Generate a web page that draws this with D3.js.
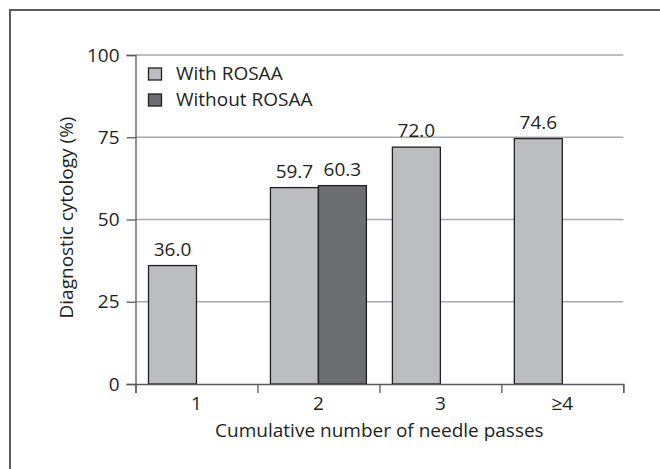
<!DOCTYPE html>
<html>
<head>
<meta charset="utf-8">
<script src="https://cdn.jsdelivr.net/npm/d3@7"></script>
<style>
  body { margin: 0; background: #fff; }
  svg { display: block; }
  text { font-family: "Open Sans", sans-serif; fill: #231f20; }
</style>
</head>
<body>
<svg id="chart" width="660" height="469"></svg>
<script>
"use strict";

// data
const categories = ["1", "2", "3", "\u22654"];
const series_names = ["With ROSAA", "Without ROSAA"];
const with_rosaa = [36.0, 59.7, 72.0, 74.6];
const without_rosaa = [null, 60.3, null, null];
const y_ticks = [0, 25, 50, 75, 100];

const series_colors = ["#bcbdc0", "#6d6e71"];
const font_size = 19;

const margin = { left: 135.5, top: 55, right: 660 - 623.3, bottom: 469 - 384 };
const width = 660 - margin.left - margin.right;
const height = 469 - margin.top - margin.bottom;

const svg = d3.select("#chart");

// outer frame, running off the right and bottom of the picture
svg.append("rect")
    .attr("x", 10)
    .attr("y", 10)
    .attr("width", 700)
    .attr("height", 500)
    .attr("fill", "none")
    .attr("stroke", "#5a5b5d")
    .attr("stroke-width", 2);

const g = svg.append("g")
    .attr("transform", `translate(${margin.left},${margin.top})`);

const x0 = d3.scaleBand()
    .domain(categories)
    .range([0, width])
    .paddingInner(26 / 122)
    .paddingOuter(13 / 122);

const x1 = d3.scaleBand()
    .domain(series_names)
    .range([0, x0.bandwidth()]);

const y = d3.scaleLinear()
    .domain([0, 100])
    .range([height, 0]);

// gridlines
g.append("g")
    .selectAll("line")
    .data(y_ticks.filter(d => d > 0))
    .enter().append("line")
    .attr("x1", 0)
    .attr("x2", width)
    .attr("y1", d => y(d))
    .attr("y2", d => y(d))
    .attr("stroke", "#a7a9ac")
    .attr("stroke-width", 1.3);

// bars
const rows = [];
categories.forEach((c, i) => {
    if (with_rosaa[i] != null) rows.push({ cat: c, series: series_names[0], value: with_rosaa[i], color: series_colors[0] });
    if (without_rosaa[i] != null) rows.push({ cat: c, series: series_names[1], value: without_rosaa[i], color: series_colors[1] });
});

g.append("g")
    .selectAll("rect")
    .data(rows)
    .enter().append("rect")
    .attr("x", d => x0(d.cat) + x1(d.series))
    .attr("y", d => y(d.value))
    .attr("width", x1.bandwidth())
    .attr("height", d => y(0) - y(d.value))
    .attr("fill", d => d.color)
    .attr("stroke", "#231f20")
    .attr("stroke-width", 1.3);

g.append("g")
    .selectAll("text")
    .data(rows)
    .enter().append("text")
    .attr("x", d => x0(d.cat) + x1(d.series) + x1.bandwidth() / 2)
    .attr("y", d => y(d.value) - 10)
    .attr("text-anchor", "middle")
    .style("font-size", font_size + "px")
    .text(d => d.value.toFixed(1));

// y axis
const yAxis = g.append("g")
    .call(d3.axisLeft(y).tickValues(y_ticks).tickSize(9).tickPadding(7));
yAxis.select(".domain").attr("stroke", "#58595b").attr("stroke-width", 1.3);
yAxis.selectAll(".tick line").attr("stroke", "#58595b").attr("stroke-width", 1.3);
yAxis.selectAll(".tick text")
    .style("font-size", font_size + "px")
    .attr("fill", "#231f20");
yAxis.attr("font-family", null);

// x axis: boundary ticks + category labels
const xb = d3.scaleLinear().domain([0, categories.length]).range([0, width]);
const xAxis = g.append("g")
    .attr("transform", `translate(0,${height})`)
    .call(d3.axisBottom(xb).ticks(categories.length).tickSize(9).tickFormat(""));
xAxis.select(".domain").attr("stroke", "#58595b").attr("stroke-width", 1.3);
xAxis.selectAll(".tick line").attr("stroke", "#58595b").attr("stroke-width", 1.3);

g.append("g")
    .attr("transform", `translate(0,${height})`)
    .selectAll("text")
    .data(categories)
    .enter().append("text")
    .attr("x", d => x0(d) + x0.bandwidth() / 2)
    .attr("y", 26)
    .attr("text-anchor", "middle")
    .style("font-size", font_size + "px")
    .text(d => d);

// axis titles
g.append("text")
    .attr("x", width / 2)
    .attr("y", height + 53)
    .attr("text-anchor", "middle")
    .style("font-size", font_size + "px")
    .text("Cumulative number of needle passes");

g.append("text")
    .attr("transform", `translate(${73 - margin.left},${217.5 - margin.top}) rotate(-90)`)
    .attr("text-anchor", "middle")
    .style("font-size", font_size + "px")
    .text("Diagnostic cytology (%)");

// legend
const legend = svg.append("g")
    .selectAll("g")
    .data(series_names)
    .enter().append("g")
    .attr("transform", (d, i) => `translate(148.5,${68 + i * 26})`);

legend.append("rect")
    .attr("width", 13)
    .attr("height", 12)
    .attr("fill", (d, i) => series_colors[i])
    .attr("stroke", "#231f20")
    .attr("stroke-width", 1.3);

legend.append("text")
    .attr("x", 27.5)
    .attr("y", 12)
    .style("font-size", font_size + "px")
    .text(d => d);
</script>
</body>
</html>
